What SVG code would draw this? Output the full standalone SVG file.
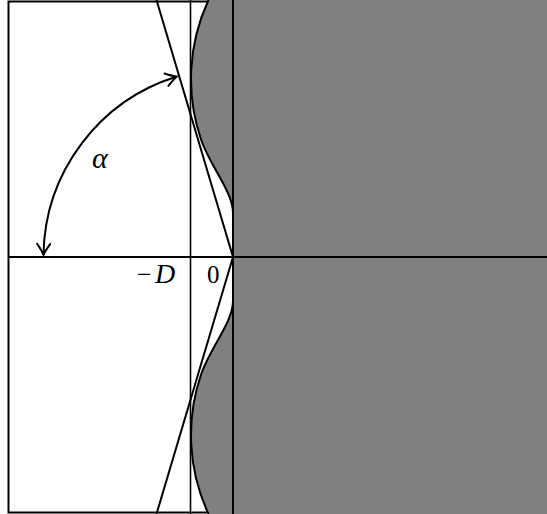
<svg xmlns="http://www.w3.org/2000/svg" width="547" height="514" viewBox="0 0 547 514">
<defs>
<style>
.ln{stroke:#000;stroke-width:2;fill:none}
.thin{stroke:#000;stroke-width:1.6;fill:none}
.lbl{font-family:"Liberation Serif","DejaVu Serif",serif;font-size:24px;fill:#000}
</style>
<marker id="ah" viewBox="-14 -8 16 16" markerWidth="16" markerHeight="16" refX="0" refY="0" orient="auto-start-reverse" markerUnits="userSpaceOnUse">
<path d="M-11,-6.5 Q-4,-1.5 0,0 Q-4,1.5 -11,6.5" fill="none" stroke="#000" stroke-width="2" stroke-linecap="round" stroke-linejoin="round"/>
</marker>
</defs>
<rect width="547" height="514" fill="#fff"/>
<g id="frame">
<rect x="8.5" y="1.5" width="560" height="511" class="ln"/>
</g>
<g id="body">
<path d="M208.5,0 A187.4,187.4 0 0 0 201.2,140 C210.3,166.5 233,192 233,213 L233,301 C233,322 210.3,347.5 201.2,374 A187.4,187.4 0 0 0 208.5,514 L547,514 L547,0 Z" fill="#808080"/>
<path d="M208.5,0 A187.4,187.4 0 0 0 201.2,140 C210.3,166.5 233,192 233,213 L233,301 C233,322 210.3,347.5 201.2,374 A187.4,187.4 0 0 0 208.5,514" class="ln"/>
</g>
<g id="connectors">
<line x1="190.5" y1="0" x2="190.5" y2="514" class="thin"/>
<line x1="233" y1="0" x2="233" y2="514" class="ln"/>
<line x1="8.5" y1="257" x2="547" y2="257" class="ln"/>
<line x1="156.5" y1="0" x2="233" y2="257" class="ln"/>
<line x1="233" y1="257" x2="156.5" y2="514" class="ln"/>
<path d="M43.5,255 A189.5,189.5 0 0 1 177,76.5" class="ln" marker-start="url(#ah)" marker-end="url(#ah)"/>
</g>
<g id="labels">
<text x="92" y="168" class="lbl" style="font-size:30px;font-style:italic">α</text>
<text x="137" y="283" class="lbl" style="font-size:26px">−</text>
<text x="155" y="283" class="lbl" style="font-size:28px;font-style:italic">D</text>
<text x="207" y="283" class="lbl" style="font-size:25px">0</text>
</g>
</svg>
